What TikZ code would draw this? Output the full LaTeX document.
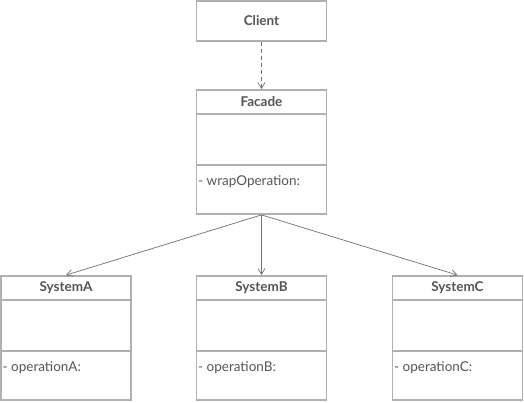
\documentclass[tikz,border=0pt]{standalone}
\usepackage{fontspec}
\setmainfont{Lato}
\usetikzlibrary{arrows.meta}
\definecolor{boxc}{HTML}{B0B0B0}
\definecolor{txtc}{HTML}{555555}
\definecolor{linec}{HTML}{707070}
\tikzset{
  umlbox/.style={draw=boxc, line width=1.8pt, minimum width=130pt, inner sep=0pt, fill=white},
  hdr/.style={font=\fontsize{13.5}{15}\selectfont\bfseries, text=txtc, inner sep=0pt},
  op/.style={font=\fontsize{13.5}{15}\selectfont, text=txtc, anchor=west, inner sep=0pt},
  sep/.style={draw=boxc, line width=1.8pt},
  conn/.style={draw=linec, line width=0.7pt, -{Straight Barb[length=6pt,width=7pt]}}
}
\begin{document}
\begin{tikzpicture}[x=1pt,y=-1pt]
\useasboundingbox (0,0) rectangle (524,402);
% Client
\node[umlbox, minimum height=40pt] (client) at (261.5,21) {};
\node[hdr] (clientT) at (client.center) {Client};
% Facade
\node[umlbox, minimum height=124pt] (facade) at (261.5,152) {};
\node[hdr] (facadeT) at (261.5,102) {Facade};
\draw[sep] (196.5,114) -- (326.5,114);
\draw[sep] (196.5,165) -- (326.5,165);
\node[op] (facadeOp) at (198,182) {- wrapOperation:};
% Systems
\foreach \nm/\cx in {A/66, B/261.5, C/457.5}{
  \node[umlbox, minimum height=124pt] (sys\nm) at (\cx,338) {};
  \node[hdr] (sys\nm T) at (\cx,288) {System\nm};
  \draw[sep] (\cx-65,300) -- (\cx+65,300);
  \draw[sep] (\cx-65,351) -- (\cx+65,351);
  \node[op] (sys\nm Op) at (\cx-63.5,368) {- operation\nm:};
}
% connectors
\draw[conn, dashed, dash pattern=on 4pt off 3pt] (client.south) -- (facade.north);
\draw[conn] (facade.south) -- (sysA.north);
\draw[conn] (facade.south) -- (sysB.north);
\draw[conn] (facade.south) -- (sysC.north);
\end{tikzpicture}
\end{document}
